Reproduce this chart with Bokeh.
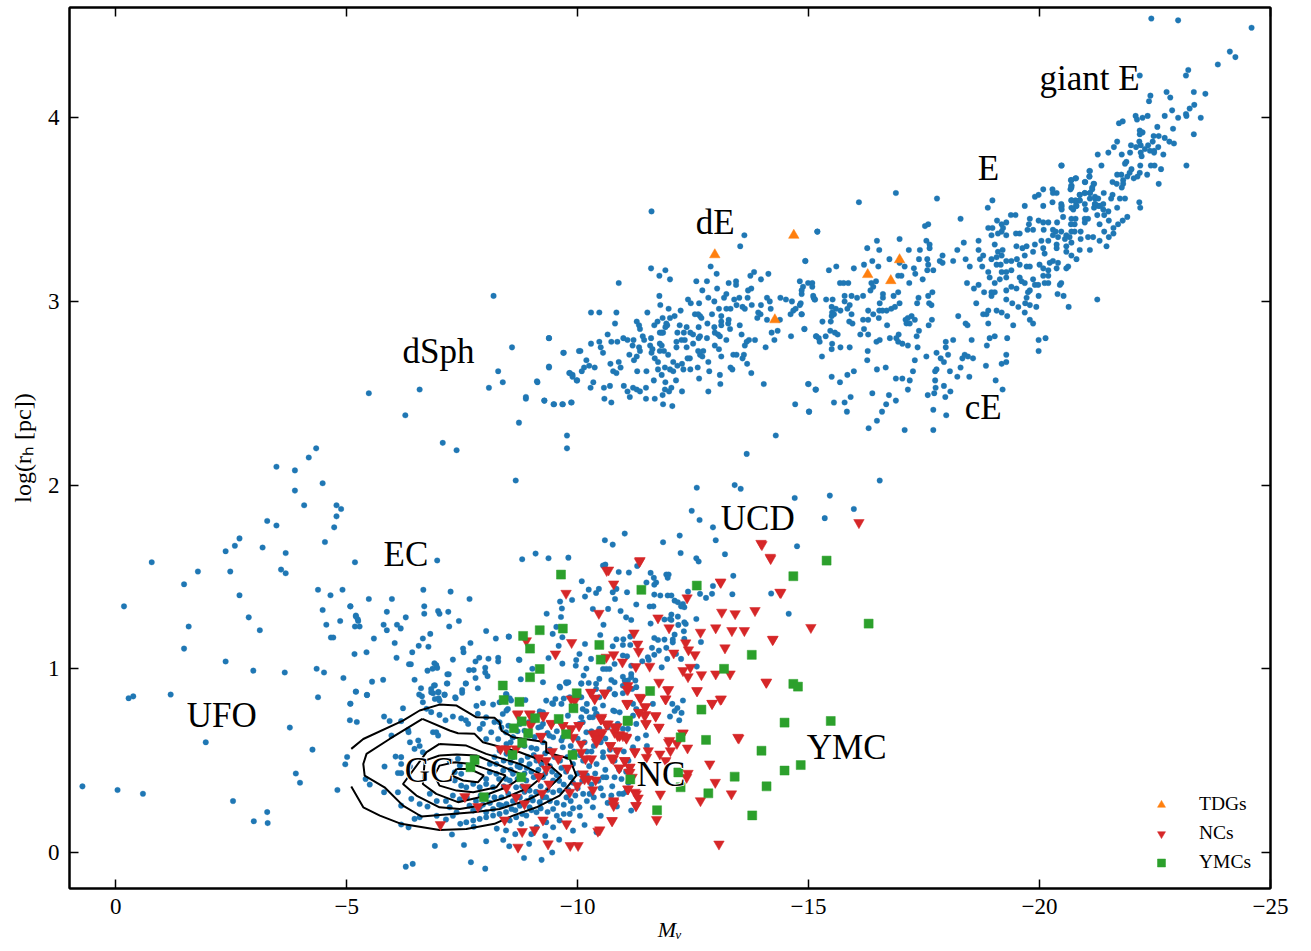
from bokeh.plotting import figure
from bokeh.models import Range1d, FixedTicker, LinearAxis, Legend, LegendItem, ColumnDataSource
from bokeh.core.properties import value
from bokeh.embed import file_html
from bokeh.resources import INLINE

SERIF = "Liberation Serif"

x_ticks = [0, -5, -10, -15, -20, -25]
x_tick_labels = ["0", "\u22125", "\u221210", "\u221215", "\u221220", "\u221225"]
y_ticks = [0, 1, 2, 3, 4]
y_tick_labels = ["0", "1", "2", "3", "4"]
x_title = "M\u1d65"
y_title = "log(r\u2095 [pc])"

dwarfs_a = [(-11.60,3.49),(-13.61,3.36),(-13.52,3.30),(-15.19,3.38),(-14.93,3.22),(-12.88,3.19),(-13.01,3.15),(-11.59,3.18),(-11.90,3.17),(-11.77,3.14),(-12.0,3.12),(-10.89,3.10),(-12.57,3.11),(-12.80,3.11),(-13.27,3.10),(-13.43,3.11),(-13.43,3.09),(-13.74,3.14),(-13.82,3.16),(-14.13,3.15),(-13.97,3.12),(-13.02,3.07),(-12.70,3.06),(-13.76,3.07),(-13.69,3.06),(-13.22,3.04),(-13.17,3.02),(-11.77,3.03),(-12.39,3.01),(-12.45,2.99),(-12.83,3.02),(-12.96,3.0),(-13.39,3.01),(-13.50,3.02),(-13.68,3.02),(-14.10,3.02),(-14.16,3.0),(-14.39,3.02),(-14.51,3.01),(-14.64,3.0),(-15.11,3.02),(-15.14,3.01),(-11.79,2.98),(-12.63,2.99),(-13.77,2.98),(-13.44,2.98),(-13.57,2.97),(-13.62,2.96),(-13.97,2.98),(-14.83,2.99),(-14.72,2.96),(-14.67,2.95),(-13.06,2.96),(-13.22,2.96),(-13.31,2.96),(-11.97,2.96),(-12.23,2.95),(-10.29,2.94),(-10.47,2.94),(-10.84,2.94),(-11.51,2.94),(-12.54,2.93),(-12.61,2.93),(-12.65,2.92),(-12.68,2.91),(-12.91,2.93),(-13.11,2.92),(-13.91,2.94),(-13.96,2.93),(-13.89,2.91),(-14.18,2.96),(-14.61,2.93),(-14.85,2.93),(-12.10,2.92),(-12.0,2.91),(-11.84,2.91),(-11.73,2.89),(-11.28,2.89),(-10.81,2.88),(-11.33,2.87),(-11.35,2.85),(-11.66,2.87),(-11.92,2.88),(-11.94,2.87),(-11.90,2.86),(-12.21,2.87),(-12.36,2.86),(-12.62,2.86),(-12.81,2.88),(-12.96,2.86),(-13.11,2.89),(-13.11,2.87),(-13.27,2.9),(-13.26,2.88),(-13.3,2.85),(-13.51,2.87),(-14.10,2.90),(-14.38,2.90),(-14.33,2.84),(-14.2,2.83),(-14.91,2.85),(-11.82,2.83),(-11.78,2.83),(-11.85,2.83),(-12.16,2.83),(-12.3,2.83),(-12.44,2.83),(-12.5,2.82),(-13.55,2.82),(-12.97,2.83),(-13.04,2.82),(-13.08,2.81),(-12.65,2.81),(-12.62,2.80),(-10.65,2.82),(-10.99,2.80),(-11.08,2.79),(-11.21,2.79),(-11.41,2.81),(-11.44,2.79),(-11.59,2.80),(-9.38,2.80),(-14.62,2.81),(-14.26,2.79),(-15.16,2.81),(-15.22,2.80),(-12.80,2.80),(-13.22,2.79),(-13.84,2.79),(-13.71,2.79),(-13.66,2.78),(-13.62,2.76),(-12.32,2.79),(-12.25,2.79),(-12.14,2.78),(-12.5,2.77),(-11.78,2.77),(-11.82,2.76),(-10.47,2.78),(-10.5,2.75),(-10.29,2.77),(-10.73,2.78),(-10.86,2.78),(-11.19,2.76),(-11.33,2.75),(-11.57,2.76),(-12.14,2.75),(-12.36,2.75),(-12.97,2.76),(-13.06,2.74),(-14.07,2.75),(-9.70,2.72),(-10.06,2.73),(-10.55,2.72),(-11.12,2.71),(-11.35,2.73),(-11.28,2.70),(-11.22,2.68),(-11.62,2.74),(-11.6,2.72),(-11.78,2.73),(-11.87,2.73),(-11.96,2.71),(-12.61,2.73),(-12.72,2.73),(-12.65,2.71),(-12.70,2.70),(-13.37,2.71),(-13.44,2.71),(-13.6,2.71),(-13.57,2.69),(-13.11,2.70),(-12.43,2.69),(-12.38,2.69),(-11.67,2.69),(-11.74,2.67),(-12.07,2.67),(-12.83,2.67),(-13.67,2.66),(-10.19,2.68),(-10.71,2.66),(-10.89,2.67),(-10.93,2.64),(-9.38,2.64),(-10.25,2.65),(-10.37,2.64),(-10.14,2.64),(-10.09,2.62),(-9.83,2.61),(-9.89,2.60),(-9.99,2.57),(-10.77,2.62),(-10.84,2.61),(-11.29,2.62),(-11.49,2.62),(-11.74,2.63),(-11.89,2.64),(-12.0,2.63),(-12.07,2.62),(-12.16,2.65),(-12.26,2.66),(-12.29,2.63),(-12.44,2.63),(-12.6,2.64),(-12.85,2.62),(-13.31,2.64),(-13.35,2.63),(-13.76,2.61),(-11.82,2.60),(-13.08,2.60),(-12.63,2.58),(-12.13,2.57),(-11.65,2.57),(-11.90,2.56),(-13.09,2.55),(-14.03,2.55),(-14.99,2.55),(-15.15,2.52),(-9.13,2.56),(-10.34,2.56),(-10.28,2.53),(-10.57,2.53),(-10.70,2.54),(-11.0,2.54),(-11.2,2.53),(-11.28,2.52),(-11.48,2.53),(-11.35,2.51),(-11.08,2.51),(-11.13,2.48),(-11.89,2.52),(-12.03,2.53),(-11.98,2.51),(-12.26,2.51),(-12.83,2.51),(-11.84,2.49),(-10.58,2.47),(-10.73,2.45),(-11.48,2.47),(-11.67,2.47),(-11.85,2.44),(-12.05,2.43),(-8.88,2.47),(-9.28,2.46),(-9.49,2.44),(-9.68,2.44),(-9.87,2.45),(-14.71,2.44),(-15.01,2.40)]

ellipticals_a = [(-20.47,3.74),(-21.09,3.71),(-21.08,3.68),(-20.78,3.67),(-20.68,3.66),(-20.99,3.65),(-21.17,3.64),(-20.69,3.63),(-20.67,3.61),(-21.14,3.61),(-20.08,3.61),(-20.28,3.61),(-20.37,3.59),(-20.29,3.59),(-19.98,3.58),(-19.90,3.57),(-17.78,3.56),(-16.89,3.59),(-16.09,3.54),(-20.98,3.59),(-21.09,3.59),(-20.87,3.58),(-20.69,3.55),(-20.78,3.55),(-20.87,3.55),(-21.2,3.56),(-21.2,3.53),(-21.27,3.52),(-18.98,3.55),(-18.88,3.51),(-19.68,3.52),(-20.08,3.52),(-20.28,3.54),(-20.47,3.53),(-20.47,3.51),(-20.8,3.52),(-20.73,3.50),(-21.0,3.50),(-19.38,3.47),(-19.48,3.47),(-18.29,3.45),(-19.79,3.45),(-19.77,3.42),(-19.98,3.44),(-20.08,3.43),(-20.19,3.43),(-20.38,3.43),(-20.51,3.46),(-20.69,3.45),(-20.78,3.45),(-20.68,3.42),(-20.76,3.42),(-20.98,3.45),(-21.05,3.45),(-20.98,3.43),(-21.25,3.47),(-19.08,3.44),(-19.28,3.43),(-19.18,3.42),(-17.59,3.42),(-17.52,3.41),(-18.89,3.40),(-18.98,3.40),(-19.21,3.40),(-19.18,3.38),(-19.1,3.37),(-19.28,3.36),(-18.96,3.36),(-19.49,3.37),(-19.57,3.37),(-19.74,3.39),(-19.86,3.39),(-20.09,3.39),(-20.29,3.39),(-20.35,3.38),(-20.47,3.38),(-20.29,3.36),(-20.40,3.35),(-20.58,3.36),(-20.69,3.38),(-20.76,3.38),(-20.65,3.35),(-20.55,3.34),(-20.89,3.34),(-21.05,3.35),(-21.16,3.35),(-20.89,3.38),(-15.19,3.38),(-16.48,3.33),(-16.97,3.34),(-17.55,3.33),(-17.62,3.31),(-18.36,3.32),(-18.68,3.33),(-19.03,3.31),(-19.5,3.30),(-19.63,3.29),(-19.72,3.30),(-19.90,3.31),(-20.04,3.33),(-20.19,3.33),(-20.69,3.32),(-20.37,3.31),(-20.37,3.29),(-20.58,3.30),(-16.27,3.29),(-16.53,3.28),(-17.17,3.28),(-17.41,3.28),(-17.62,3.29),(-18.22,3.28),(-18.68,3.28),(-19.10,3.27),(-19.20,3.28),(-19.07,3.24),(-19.18,3.25),(-19.68,3.25),(-19.86,3.27),(-20.08,3.29),(-20.11,3.26),(-20.69,3.25),(-20.80,3.23),(-20.87,3.28),(-21.09,3.28),(-20.58,3.27),(-16.75,3.23),(-16.38,3.22),(-16.20,3.20),(-16.97,3.21),(-17.39,3.23),(-17.57,3.23),(-17.90,3.25),(-17.84,3.22),(-17.90,3.21),(-18.13,3.22),(-18.40,3.23),(-18.49,3.19),(-18.78,3.25),(-18.71,3.23),(-18.76,3.19),(-18.96,3.23),(-19.07,3.20),(-19.16,3.20),(-19.28,3.22),(-19.39,3.22),(-19.51,3.23),(-19.57,3.20),(-19.72,3.19),(-19.79,3.19),(-20.0,3.20),(-20.22,3.21),(-20.08,3.18),(-20.19,3.17),(-20.29,3.22),(-20.40,3.21),(-20.58,3.18),(-20.62,3.19),(-20.37,3.18),(-14.93,3.22),(-15.60,3.19),(-15.44,3.17),(-15.98,3.18),(-16.51,3.19),(-17.08,3.19),(-17.28,3.18),(-17.31,3.15),(-17.59,3.20),(-17.57,3.17),(-17.70,3.17),(-18.89,3.16),(-18.92,3.13),(-19.03,3.10),(-19.18,3.16),(-19.28,3.16),(-19.39,3.17),(-19.14,3.12),(-19.28,3.13),(-19.57,3.13),(-19.68,3.10),(-19.86,3.12),(-19.90,3.09),(-20.08,3.14),(-20.19,3.14),(-20.19,3.10),(-20.11,3.10),(-20.47,3.10),(-20.44,3.09),(-16.94,3.14),(-17.01,3.14),(-16.46,3.11),(-15.68,3.10),(-15.76,3.10),(-15.86,3.10),(-17.47,3.12),(-17.18,3.10),(-16.36,3.10),(-16.40,3.08),(-16.34,3.06),(-14.81,3.11),(-14.88,3.08),(-14.99,3.10),(-15.08,3.10),(-15.08,3.08),(-14.85,3.06),(-14.85,3.04),(-18.43,3.10),(-18.58,3.07),(-18.68,3.09),(-18.80,3.05),(-18.96,3.05),(-19.03,3.05),(-18.96,3.03),(-19.28,3.06),(-19.39,3.08),(-19.50,3.07),(-19.61,3.11),(-19.75,3.05),(-19.79,3.06),(-19.97,3.09),(-19.72,3.02),(-19.98,3.03),(-20.39,3.04),(-20.52,3.03),(-19.28,3.01),(-19.41,2.99),(-19.54,2.97),(-19.69,2.99),(-19.79,2.98),(-19.93,2.97),(-20.63,2.97),(-21.25,3.01)]

ellipticals_b = [(-17.68,3.05),(-17.59,3.03),(-17.38,3.02),(-17.35,2.99),(-17.61,2.99),(-17.66,2.98),(-16.61,3.04),(-16.61,3.02),(-16.94,3.05),(-16.84,3.03),(-16.18,3.03),(-16.05,3.02),(-15.93,3.03),(-15.78,3.03),(-15.78,3.0),(-15.52,3.01),(-15.38,3.01),(-15.10,3.03),(-15.13,3.01),(-16.97,2.99),(-16.87,2.97),(-16.79,2.96),(-16.54,2.99),(-16.53,2.95),(-16.6,2.95),(-16.69,2.95),(-16.40,2.93),(-16.29,2.95),(-15.89,2.98),(-15.84,2.96),(-15.5,2.97),(-15.59,2.96),(-15.69,2.95),(-15.51,2.94),(-15.5,2.92),(-15.55,2.93),(-15.93,2.93),(-14.85,2.93),(-14.81,2.98),(-19.07,2.95),(-19.18,2.94),(-19.30,2.92),(-18.89,2.95),(-18.78,2.93),(-18.85,2.93),(-18.63,2.99),(-18.89,2.88),(-19.43,2.87),(-19.68,2.94),(-19.79,2.90),(-19.86,2.88),(-18.24,2.92),(-18.40,2.88),(-18.44,2.87),(-17.67,2.90),(-17.60,2.87),(-17.15,2.91),(-17.23,2.92),(-17.10,2.90),(-17.30,2.90),(-17.12,2.88),(-17.19,2.88),(-17.39,2.84),(-17.34,2.81),(-16.70,2.87),(-16.52,2.91),(-16.18,2.90),(-16.29,2.90),(-16.2,2.85),(-15.30,2.89),(-15.48,2.89),(-15.88,2.89),(-15.95,2.88),(-14.91,2.85),(-15.47,2.84),(-15.57,2.83),(-15.63,2.82),(-16.12,2.82),(-16.29,2.82),(-15.17,2.81),(-15.37,2.81),(-15.24,2.78),(-15.51,2.77),(-15.50,2.74),(-15.69,2.75),(-15.89,2.75),(-16.95,2.82),(-16.76,2.80),(-16.90,2.80),(-16.54,2.79),(-16.47,2.78),(-16.94,2.78),(-17.03,2.77),(-17.15,2.76),(-17.36,2.75),(-16.28,2.73),(-16.27,2.68),(-15.29,2.70),(-19.03,2.81),(-18.92,2.80),(-19.30,2.80),(-18.86,2.76),(-18.53,2.79),(-18.13,2.79),(-17.97,2.78),(-17.97,2.75),(-17.77,2.72),(-18.02,2.71),(-17.86,2.69),(-17.93,2.67),(-17.55,2.70),(-17.30,2.68),(-18.38,2.71),(-18.33,2.69),(-18.45,2.70),(-18.56,2.69),(-18.29,2.64),(-18.06,2.62),(-17.77,2.63),(-17.74,2.62),(-17.26,2.62),(-16.67,2.64),(-16.48,2.63),(-15.98,2.62),(-15.84,2.60),(-15.50,2.59),(-15.68,2.56),(-15.0,2.55),(-15.16,2.52),(-16.89,2.58),(-17.03,2.58),(-17.19,2.57),(-17.15,2.52),(-17.74,2.57),(-18.22,2.59),(-18.48,2.59),(-18.84,2.65),(-19.18,2.66),(-19.28,2.67),(-19.28,2.71),(-19.98,2.79),(-20.13,2.80),(-19.98,2.73),(-19.05,2.57),(-19.20,2.52),(-17.93,2.54),(-18.07,2.51),(-17.75,2.53),(-17.72,2.50),(-17.58,2.49),(-17.96,2.48),(-16.38,2.50),(-16.74,2.49),(-16.89,2.46),(-15.91,2.48),(-15.55,2.45),(-15.78,2.45),(-15.83,2.40),(-15.01,2.40),(-16.68,2.44),(-16.59,2.40),(-16.48,2.35),(-16.30,2.31),(-17.08,2.30),(-17.70,2.41),(-17.70,2.30),(-17.98,2.38)]

giants = [(-22.42,4.54),(-23.0,4.53),(-24.59,4.49),(-24.12,4.36),(-24.24,4.33),(-23.86,4.29),(-23.22,4.26),(-23.17,4.23),(-22.17,4.23),(-22.40,4.12),(-22.37,4.09),(-22.75,4.14),(-22.83,4.11),(-23.34,4.14),(-23.59,4.13),(-22.87,4.04),(-23.35,4.07),(-23.25,4.05),(-23.17,4.02),(-23.18,4.01),(-23.49,4.0),(-23.0,4.0),(-22.71,4.01),(-22.34,4.01),(-22.23,4.0),(-22.08,4.01),(-22.11,3.99),(-21.80,3.98),(-21.72,3.97),(-22.55,3.95),(-22.89,3.94),(-23.34,3.91),(-22.17,3.93),(-22.23,3.92),(-22.17,3.91),(-22.47,3.90),(-22.58,3.90),(-22.71,3.89),(-22.81,3.87),(-22.91,3.86),(-21.68,3.87),(-21.61,3.84),(-21.49,3.81),(-21.26,3.80),(-22.16,3.87),(-22.19,3.85),(-22.45,3.87),(-21.98,3.85),(-22.09,3.84),(-22.35,3.85),(-22.28,3.83),(-22.57,3.84),(-21.96,3.81),(-21.78,3.80),(-22.19,3.81),(-22.21,3.79),(-22.39,3.82),(-22.48,3.82),(-22.48,3.81),(-22.68,3.80),(-21.88,3.76),(-21.85,3.75),(-21.34,3.74),(-20.48,3.74),(-22.18,3.74),(-22.41,3.74),(-22.49,3.74),(-22.63,3.72),(-23.18,3.74),(-21.08,3.71),(-21.08,3.68),(-21.99,3.72),(-21.95,3.70),(-21.90,3.68),(-21.68,3.69),(-21.77,3.69),(-22.17,3.70),(-22.12,3.68),(-22.04,3.67),(-22.33,3.69),(-21.81,3.66),(-21.81,3.64),(-21.78,3.62),(-21.58,3.65),(-21.67,3.64),(-22.58,3.64),(-20.79,3.67),(-20.69,3.66),(-20.69,3.63),(-20.69,3.62),(-20.98,3.65),(-21.18,3.64),(-21.14,3.62),(-21.09,3.59),(-20.87,3.58),(-20.98,3.59),(-21.39,3.59),(-21.58,3.58),(-21.55,3.56),(-21.09,3.56),(-21.2,3.57),(-21.27,3.56),(-21.74,3.56),(-21.85,3.56),(-20.69,3.55),(-20.79,3.54),(-20.87,3.55),(-20.79,3.52),(-20.98,3.53),(-21.2,3.53),(-21.18,3.51),(-21.31,3.52),(-21.38,3.53),(-21.38,3.50),(-21.68,3.51),(-22.16,3.54),(-22.18,3.51),(-20.48,3.52),(-20.48,3.50),(-20.69,3.51),(-21.49,3.49),(-21.4,3.47),(-21.5,3.44),(-21.3,3.42),(-21.6,3.40),(-21.7,3.42),(-21.4,3.38),(-21.5,3.35),(-21.3,3.33),(-21.8,3.44),(-21.9,3.46),(-21.45,3.30),(-21.6,3.37)]

faint = [(-8.18,3.03),(-9.38,2.80),(-8.58,2.75),(-9.69,2.72),(-10.03,2.73),(-9.38,2.645),(-8.28,2.62),(-9.82,2.61),(-9.89,2.59),(-9.98,2.57),(-9.12,2.565),(-8.38,2.56),(-8.08,2.53),(-6.58,2.52),(-5.48,2.50),(-8.88,2.48),(-9.28,2.46),(-9.48,2.44),(-9.67,2.44),(-9.86,2.45),(-6.27,2.38),(-8.73,2.34),(-9.77,2.27),(-9.77,2.20),(-7.08,2.23),(-7.38,2.19),(-4.34,2.20),(-4.18,2.15),(-3.48,2.10),(-3.88,2.08),(-4.48,2.01),(-3.88,1.97),(-4.08,1.89),(-4.78,1.89),(-4.88,1.87),(-4.78,1.83),(-3.28,1.805),(-3.48,1.78),(-4.73,1.77),(-2.68,1.71),(-2.58,1.67),(-2.38,1.64),(-3.18,1.66),(-3.68,1.63),(-4.53,1.69),(-5.18,1.58),(-0.78,1.58),(-1.78,1.53),(-2.48,1.53),(-3.58,1.54),(-3.68,1.52),(-1.48,1.46),(-2.68,1.40),(-4.38,1.43),(-4.65,1.40),(-4.91,1.43),(-5.08,1.34),(-4.48,1.32),(-0.18,1.34),(-1.58,1.23),(-2.88,1.28),(-3.12,1.21),(-1.48,1.11),(-4.56,1.24),(-4.86,1.26),(-5.2,1.29),(-5.24,1.27),(-5.18,1.23),(-4.66,1.17),(-4.71,1.17),(-5.17,1.08),(-2.38,1.04),(-2.98,0.99),(-3.66,0.98),(-4.35,1.0),(-4.51,0.98),(-4.93,0.95),(-0.28,0.84),(-0.38,0.85),(-1.19,0.86),(-4.38,0.845),(-5.2,0.875),(-5.08,0.81),(-5.07,0.72),(-5.22,0.71),(-3.77,0.68),(-1.95,0.60),(-4.26,0.56),(-5.01,0.52),(-4.97,0.48),(-3.90,0.43),(-3.99,0.38),(0.72,0.36),(-0.04,0.34),(-0.59,0.32),(-4.8,0.34),(-2.54,0.28),(-3.28,0.22),(-2.99,0.17),(-3.29,0.16),(-5.98,1.38),(-5.48,1.38),(-6.96,1.59),(-14.29,2.27),(-13.66,2.17),(-16.54,2.025),(-15.46,1.943),(-13.4,2.0),(-13.53,1.98),(-12.58,1.986),(-14.7,1.93),(-8.66,2.025),(-12.93,1.77),(-11.02,1.736),(-10.59,1.70),(-12.21,1.725),(-12.47,1.86),(-12.64,1.81),(-15.35,1.82),(-15.98,1.87)]

ec_group = [(-6.66,1.43),(-7.25,1.42),(-7.66,1.38),(-5.08,1.34),(-6.68,1.34),(-5.87,1.31),(-6.68,1.30),(-6.98,1.315),(-7.01,1.30),(-7.2,1.31),(-6.28,1.28),(-5.2,1.285),(-5.25,1.26),(-5.8,1.24),(-6.09,1.24),(-6.17,1.22),(-5.28,1.23),(-7.22,1.23),(-7.43,1.26),(-5.87,1.21),(-8.02,1.206),(-6.81,1.19),(-6.65,1.165),(-8.23,1.165),(-8.51,1.175),(-5.59,1.165),(-6.04,1.14),(-6.56,1.125),(-6.77,1.12),(-7.68,1.14),(-7.52,1.11),(-7.53,1.09),(-6.42,1.09),(-5.43,1.09),(-6.08,1.06),(-7.3,1.05),(-7.87,1.06),(-7.79,1.04),(-8.07,1.055),(-8.28,1.06),(-8.28,1.04),(-8.73,1.05),(-6.35,1.025),(-6.39,1.025),(-6.9,1.03),(-6.94,1.02),(-6.96,1.005),(-6.86,1.0),(-6.75,0.99),(-5.55,0.93),(-5.79,0.94),(-6.47,0.94),(-7.18,0.97),(-7.21,0.97),(-7.65,0.993),(-7.75,0.993),(-8.0,1.006),(-8.0,0.98),(-8.05,0.96),(-7.79,0.95),(-7.18,0.92),(-7.58,0.92),(-7.84,0.894),(-6.91,0.91),(-6.83,0.89),(-6.87,0.867),(-6.99,0.874),(-6.61,0.894),(-6.57,0.86),(-6.63,0.85),(-7.12,0.86),(-7.5,0.87),(-7.36,0.84),(-6.99,0.84),(-5.44,0.857),(-8.46,0.86),(-8.53,0.84)]

gc_group = [(-5.2,0.876),(-5.44,0.858),(-5.08,0.81),(-6.89,0.909),(-6.83,0.872),(-6.98,0.872),(-6.91,0.836),(-7.01,0.827),(-7.12,0.858),(-7.17,0.92),(-7.35,0.845),(-7.5,0.885),(-7.58,0.92),(-6.22,0.785),(-6.65,0.818),(-6.73,0.782),(-6.83,0.764),(-5.81,0.74),(-5.93,0.716),(-6.18,0.715),(-6.33,0.667),(-6.34,0.655),(-5.97,0.637),(-6.87,0.655),(-6.94,0.655),(-6.98,0.637),(-7.01,0.749),(-7.14,0.72),(-7.3,0.74),(-7.48,0.73),(-7.58,0.72),(-7.63,0.70),(-7.81,0.798),(-7.95,0.813),(-8.17,0.805),(-8.31,0.818),(-8.46,0.773),(-7.84,0.755),(-8.02,0.736),(-8.2,0.71),(-7.95,0.70),(-7.88,0.673),(-8.13,0.655),(-8.28,0.618),(-8.02,0.618),(-6.37,0.60),(-6.55,0.61),(-6.58,0.58),(-6.47,0.564),(-6.65,0.546),(-6.06,0.522),(-6.18,0.519),(-6.18,0.482),(-5.82,0.468),(-6.11,0.433),(-6.18,0.432),(-6.37,0.468),(-5.41,0.40),(-5.5,0.37),(-5.81,0.328),(-6.11,0.328),(-6.4,0.292),(-6.58,0.264),(-6.18,0.255),(-6.47,0.183),(-6.58,0.192),(-6.34,0.137),(-6.18,0.152),(-7.23,0.50),(-7.41,0.51),(-7.45,0.473),(-7.34,0.437),(-7.48,0.428),(-7.34,0.392),(-7.48,0.364),(-7.59,0.355),(-7.74,0.373),(-7.88,0.355),(-8.02,0.373),(-8.17,0.355),(-8.1,0.482),(-8.24,0.482),(-8.1,0.437),(-8.02,0.40),(-8.24,0.428),(-8.39,0.446),(-8.53,0.392),(-8.6,0.428),(-8.67,0.355),(-8.75,0.464),(-8.89,0.392),(-8.96,0.337),(-8.31,0.555),(-8.46,0.537),(-8.6,0.519),(-8.78,0.50),(-8.96,0.482),(-9.11,0.50),(-9.25,0.41),(-9.47,0.392),(-9.47,0.328),(-9.61,0.337),(-9.76,0.30),(-7.23,0.246),(-7.38,0.219),(-7.66,0.255),(-7.74,0.228),(-7.88,0.246),(-8.02,0.219),(-8.17,0.237),(-8.35,0.255),(-8.46,0.264),(-8.57,0.237),(-8.75,0.255),(-8.96,0.246),(-9.03,0.283),(-9.18,0.274),(-9.32,0.301),(-7.46,0.156),(-7.59,0.165),(-7.74,0.174),(-7.88,0.183),(-8.02,0.192),(-8.17,0.201),(-8.31,0.21),(-8.53,0.174),(-8.67,0.192),(-8.89,0.201),(-9.11,0.219),(-9.47,0.237),(-7.28,0.098),(-6.91,0.036),(-7.54,0.041),(-8.02,0.061),(-8.39,0.068),(-8.52,0.034),(-8.95,0.047),(-9.45,0.0),(-9.22,-0.04),(-8.84,-0.03),(-7.69,-0.053),(-8.0,-0.088),(-6.28,-0.077),(-6.43,-0.062),(-9.61,0.174),(-9.83,0.21),(-10.04,0.246),(-10.33,0.246),(-10.12,0.319),(-10.26,0.319),(-10.55,0.31),(-9.9,0.119),(-9.76,0.156),(-10.41,0.11),(-9.47,0.137),(-9.32,0.165),(-9.11,0.137),(-8.78,0.156),(-10.62,0.41),(-10.8,0.41),(-10.98,0.319),(-11.16,0.228),(-10.73,0.31),(-10.55,0.41),(-9.61,0.903),(-9.76,0.921),(-9.47,0.809),(-9.65,0.809),(-9.83,0.845),(-10.04,0.845),(-10.08,0.918),(-10.8,0.863),(-11.09,0.936),(-10.55,0.80),(-10.77,0.773),(-10.26,0.736),(-10.04,0.70),(-10.19,0.655),(-10.48,0.609),(-10.84,0.555),(-10.55,0.546),(-11.2,0.573),(-10.98,0.673),(-10.41,0.755),(-11.27,0.70),(-9.32,0.827),(-9.18,0.755),(-9.25,0.70),(-9.07,0.628),(-9.11,0.564),(-8.96,0.637),(-8.78,0.609),(-8.46,0.591),(-8.6,0.627),(-9.47,0.627),(-9.68,0.573),(-9.9,0.482),(-10.12,0.50),(-10.41,0.482),(-10.55,0.519),(-8.85,0.43),(-8.9,0.46),(-9.0,0.44),(-9.05,0.41),(-9.15,0.45),(-9.2,0.36),(-9.3,0.43),(-9.35,0.34),(-9.4,0.47),(-9.45,0.44),(-9.55,0.42),(-9.6,0.39),(-9.65,0.46),(-9.7,0.37),(-9.75,0.44),(-9.8,0.34),(-9.85,0.41),(-9.9,0.38),(-9.95,0.31),(-10.0,0.43),(-8.7,0.4),(-8.8,0.36),(-8.55,0.45),(-8.45,0.4),(-8.4,0.36),(-8.3,0.4),(-8.65,0.31),(-8.75,0.3),(-8.85,0.33),(-9.0,0.3),(-9.1,0.33),(-9.25,0.3),(-9.4,0.28),(-9.55,0.27),(-9.7,0.26),(-9.85,0.28),(-10.0,0.35),(-10.1,0.39),(-10.2,0.42),(-10.3,0.37),(-8.5,0.32),(-8.35,0.3),(-8.2,0.3),(-8.05,0.31),(-7.9,0.31),(-7.8,0.28),(-8.6,0.28),(-8.9,0.28)]

core_extra = [(-8.2,0.52),(-8.4,0.5),(-8.55,0.49),(-8.7,0.47),(-8.92,0.52),(-9.05,0.53),(-9.22,0.48),(-9.3,0.54),(-9.5,0.52),(-9.62,0.5),(-9.78,0.52),(-9.92,0.55),(-10.05,0.53),(-10.2,0.55),(-10.25,0.47),(-10.38,0.43),(-10.45,0.39),(-10.5,0.35),(-10.35,0.3),(-10.2,0.28),(-10.05,0.2),(-9.9,0.24),(-9.7,0.21),(-9.55,0.2),(-9.35,0.22),(-9.2,0.24),(-9.0,0.23),(-8.8,0.21),(-8.65,0.23),(-8.45,0.22),(-8.3,0.26),(-8.1,0.27),(-7.95,0.26),(-7.6,0.3),(-7.45,0.29),(-7.3,0.31),(-7.15,0.28),(-6.95,0.28),(-6.8,0.32),(-6.75,0.25),(-6.95,0.2),(-7.15,0.18),(-7.3,0.2),(-7.75,0.14),(-8.25,0.13),(-8.45,0.12),(-8.65,0.1),(-9.0,0.1),(-9.3,0.09),(-9.6,0.07),(-10.15,0.15),(-10.5,0.2),(-10.65,0.27),(-10.75,0.36),(-10.95,0.4),(-11.05,0.44),(-8.55,0.6),(-8.7,0.66),(-8.85,0.58),(-9.0,0.57),(-9.25,0.6),(-9.35,0.65),(-9.55,0.66),(-9.65,0.61),(-9.8,0.64),(-9.85,0.58),(-10.0,0.62),(-10.15,0.6),(-10.3,0.66),(-10.35,0.58),(-10.6,0.62),(-10.65,0.68),(-9.4,0.56),(-9.15,0.68),(-8.95,0.71),(-8.75,0.7),(-8.5,0.69),(-8.35,0.68)]

nc_field = [(-10.76,1.676),(-11.85,1.689),(-12.99,1.70),(-14.75,1.667),(-9.09,1.627),(-9.37,1.602),(-9.8,1.605),(-8.8,1.596),(-12.23,1.63),(-12.57,1.602),(-12.62,1.584),(-13.19,1.624),(-11.29,1.56),(-10.55,1.562),(-10.6,1.567),(-10.89,1.527),(-11.11,1.524),(-11.92,1.513),(-11.97,1.513),(-11.95,1.495),(-11.58,1.522),(-11.65,1.495),(-11.7,1.47),(-11.66,1.458),(-13.37,1.506),(-11.49,1.47),(-10.09,1.477),(-12.93,1.451),(-10.84,1.435),(-10.76,1.417),(-10.24,1.431),(-10.4,1.413),(-10.46,1.435),(-11.07,1.417),(-10.81,1.38),(-10.16,1.393),(-12.39,1.42),(-12.65,1.408),(-12.91,1.408),(-13.35,1.406),(-12.78,1.386),(-14.19,1.41),(-11.66,1.404),(-11.79,1.399),(-11.95,1.399),(-12.03,1.399),(-12.1,1.371),(-12.17,1.362),(-12.28,1.353),(-12.31,1.335),(-12.24,1.34),(-9.62,1.366),(-9.88,1.375),(-9.66,1.328),(-9.64,1.282),(-9.33,1.30),(-10.33,1.326),(-10.66,1.326),(-10.93,1.315),(-11.27,1.35),(-11.56,1.339),(-11.64,1.34),(-11.05,1.28),(-11.16,1.266),(-12.03,1.295),(-12.0,1.271),(-11.88,1.268),(-12.17,1.284),(-12.03,1.266),(-12.57,1.271),(-12.31,1.253),(-12.3,1.204),(-12.18,1.239),(-12.34,1.244),(-11.58,1.246),(-10.56,1.24),(-14.57,1.30),(-9.54,1.228),(-9.46,1.19),(-9.67,1.172),(-8.51,1.175),(-10.49,1.184),(-10.84,1.161),(-10.99,1.161),(-11.14,1.175),(-11.66,1.168),(-11.74,1.157),(-11.88,1.159),(-12.1,1.186),(-12.06,1.159),(-12.31,1.163),(-12.67,1.146),(-10.98,1.13),(-11.14,1.13),(-10.76,1.123),(-10.16,1.135),(-9.59,1.125),(-10.04,1.081),(-11.61,1.114),(-11.76,1.099),(-11.66,1.076),(-11.92,1.114),(-12.06,1.144),(-11.94,1.054),(-12.13,1.081),(-12.24,1.054),(-9.37,1.059),(-9.97,1.048),(-9.67,1.028),(-8.74,1.048),(-9.96,1.017),(-9.02,1.0),(-10.19,1.001),(-10.29,1.054),(-10.55,0.999),(-10.62,0.999),(-10.69,0.999),(-10.8,1.026),(-10.98,1.072),(-11.07,1.068),(-11.16,1.017),(-11.4,1.041),(-11.52,1.063),(-11.54,1.048),(-11.82,1.008),(-12.58,1.012),(-10.13,0.963),(-10.47,0.945),(-10.73,0.939),(-10.8,0.927),(-10.98,0.957),(-11.02,0.936),(-11.16,0.972),(-11.16,0.954),(-11.25,0.936),(-8.77,0.943),(-9.25,0.927),(-9.75,0.927),(-9.8,0.927),(-9.62,0.898),(-10.08,0.921),(-10.24,0.923),(-10.4,0.918),(-10.69,0.89),(-10.98,0.908),(-11.27,0.90),(-10.4,0.89),(-8.45,0.863),(-8.56,0.827),(-8.87,0.83),(-9.52,0.836),(-9.7,0.838),(-9.45,0.812),(-10.08,0.845),(-10.2,0.809),(-10.47,0.845),(-10.81,0.861),(-10.98,0.867),(-11.18,0.89),(-11.2,0.809),(-11.27,0.781),(-11.63,0.809),(-12.05,0.809),(-12.16,0.787),(-12.28,0.827),(-8.49,0.781),(-9.25,0.763),(-9.18,0.769),(-9.79,0.745),(-10.11,0.781),(-10.19,0.769),(-10.37,0.781),(-10.4,0.754),(-10.8,0.769),(-10.91,0.763),(-11.2,0.745),(-10.87,0.70),(-11.09,0.673),(-10.08,0.736),(-10.11,0.709),(-9.21,0.685),(-9.68,0.627),(-9.39,0.636),(-8.6,0.627),(-8.85,0.663),(-11.48,0.638),(-10.33,0.736),(-10.47,0.673),(-8.38,0.754),(-8.31,0.709),(-8.45,0.654),(-10.7,0.56),(-10.8,0.5),(-10.9,0.45),(-10.5,0.6),(-10.3,0.55),(-10.6,0.45),(-11.0,0.55),(-11.1,0.5),(-11.3,0.62),(-11.5,0.58),(-12.1,0.77),(-12.0,0.74),(-12.25,0.76),(-12.2,0.72),(-11.1,0.38),(-10.9,0.32),(-10.85,0.25),(-11.05,0.33)]

tdg_mv = [-12.97, -14.68, -16.28, -16.78, -16.97, -14.27]
tdg_logr = [3.254, 3.36, 3.146, 3.113, 3.227, 2.90]

nc_pairs = [(-11.35,1.589),(-10.67,1.538),(-13.09,1.473),(-10.78,1.462),(-9.75,1.411),(-14.38,1.417),(-12.37,1.386),(-13.97,1.683),(-14.17,1.607),(-10.46,1.302),(-11.74,1.277),(-13.12,1.308),(-13.41,1.30),(-13.84,1.317),(-11.98,1.223),(-12.99,1.223),(-12.66,1.199),(-13.34,1.208),(-13.61,1.208),(-14.23,1.161),(-11.22,1.195),(-8.89,1.153),(-9.87,1.143),(-11.3,1.135),(-11.32,1.095),(-12.34,1.141),(-12.4,1.103),(-12.54,1.077),(-12.08,1.086),(-13.19,1.114),(-9.52,1.081),(-10.62,1.063),(-10.78,1.077),(-10.97,1.037),(-11.26,1.012),(-11.56,1.014),(-12.44,1.008),(-12.28,0.99),(-12.39,0.957),(-12.68,0.968),(-12.99,0.972),(-13.3,0.972),(-14.08,0.927),(-11.76,0.927),(-11.95,0.885),(-11.07,0.887),(-12.58,0.881),(-10.28,0.872),(-10.58,0.867),(-10.37,0.841),(-9.86,0.836),(-11.36,0.84),(-11.9,0.836),(-11.07,0.809),(-11.46,0.791),(-13.09,0.834),(-12.91,0.811),(-11.69,0.742),(-11.47,0.751),(-11.33,0.762),(-10.5,0.727),(-8.7,0.751),(-8.97,0.751),(-9.25,0.743),(-8.97,0.696),(-9.43,0.703),(-9.68,0.691),(-9.86,0.673),(-10.03,0.691),(-10.63,0.696),(-10.85,0.685),(-11.48,0.70),(-11.76,0.682),(-9.21,0.633),(-10.33,0.645),(-10.47,0.649),(-10.42,0.627),(-10.8,0.654),(-10.91,0.636),(-11.05,0.627),(-12.28,0.649),(-13.47,0.627),(-11.99,0.61),(-14.09,0.927),(-11.97,0.887),(-11.09,0.887),(-10.59,0.868),(-12.59,0.881),(-11.37,0.841),(-11.91,0.836),(-11.08,0.812),(-13.11,0.836),(-12.91,0.812),(-11.47,0.794),(-11.33,0.763),(-11.69,0.745),(-11.45,0.745),(-11.48,0.703),(-10.52,0.736),(-10.62,0.70),(-11.76,0.681),(-10.8,0.681),(-10.91,0.642),(-11.06,0.622),(-13.49,0.623),(-10.52,0.645),(-11.97,0.60),(-12.28,0.651),(-12.15,0.594),(-12.38,0.569),(-12.01,0.554),(-10.71,0.582),(-11.24,0.549),(-11.53,0.554),(-11.78,0.536),(-10.86,0.554),(-10.77,0.509),(-11.49,0.518),(-11.02,0.50),(-11.91,0.50),(-12.86,0.482),(-10.9,0.46),(-11.13,0.464),(-11.13,0.436),(-12.39,0.431),(-12.36,0.409),(-12.98,0.382),(-11.09,0.346),(-11.79,0.318),(-13.33,0.319),(-11.24,0.328),(-11.31,0.297),(-12.66,0.282),(-10.78,0.282),(-10.78,0.255),(-11.26,0.255),(-10.75,0.173),(-11.71,0.179),(-13.06,0.046),(-10.48,0.123),(-7.03,0.152),(-7.56,0.304),(-7.84,0.25),(-8.42,0.177),(-8.8,0.114),(-8.71,0.029),(-9.07,0.123),(-9.36,0.047),(-9.84,0.038),(-10.01,0.038),(-9.25,0.177),(-9.76,0.156),(-10.44,0.116),(-10.74,0.174),(-10.78,0.274),(-8.67,0.301),(-8.87,0.355),(-8.85,0.265),(-8.46,0.352),(-9.23,0.323),(-9.38,0.373),(-9.16,0.413),(-9.83,0.328),(-9.99,0.364),(-9.78,0.46),(-10.33,0.341),(-10.39,0.395),(-10.23,0.40),(-10.12,0.428),(-10.15,0.40),(-11.09,0.346),(-11.27,0.256),(-11.27,0.319),(-11.18,0.41),(-8.33,0.564),(-8.46,0.564),(-8.67,0.564),(-9.16,0.515),(-9.32,0.50),(-9.58,0.51),(-9.32,0.455),(-9.45,0.55),(-10.08,0.591),(-10.08,0.546),(-10.17,0.51),(-10.3,0.51),(-10.71,0.582),(-10.73,0.515),(-10.9,0.46),(-11.02,0.50),(-11.24,0.546),(-11.13,0.464),(-11.11,0.437),(-8.71,0.755),(-8.96,0.755),(-9.27,0.746),(-9.0,0.70),(-9.43,0.70),(-9.68,0.691),(-9.21,0.631),(-10.03,0.691),(-9.86,0.673),(-9.9,0.627),(-9.94,0.827),(-10.3,0.872),(-10.37,0.836),(-10.59,0.867),(-11.07,0.81),(-11.09,0.909),(-11.34,0.845),(-10.51,0.727),(-10.66,0.70),(-10.84,0.682),(-10.98,0.636),(-11.05,0.627),(-10.87,0.636),(-10.41,0.646),(-10.51,0.655),(-10.41,0.60),(-10.41,0.618),(-16.09,1.796),(-13.99,1.676),(-14.18,1.60),(-14.4,1.415),(-13.1,1.47),(-11.34,1.584),(-10.63,1.535),(-15.05,1.225),(-14.22,1.159)]

ymc_pairs = [(-9.64,1.513),(-14.67,1.504),(-11.38,1.43),(-12.58,1.453),(-9.18,1.21),(-9.68,1.219),(-8.82,1.179),(-8.97,1.11),(-10.47,1.13),(-10.5,1.05),(-9.18,0.999),(-8.97,0.954),(-13.77,1.076),(-13.17,1.0),(-14.67,0.918),(-14.77,0.903),(-8.38,0.909),(-8.4,0.83),(-8.74,0.82),(-9.98,0.867),(-9.91,0.785),(-11.57,0.879),(-12.68,0.778),(-14.48,0.707),(-11.08,0.716),(-9.59,0.727),(-9.08,0.731),(-8.79,0.714),(-8.62,0.676),(-8.93,0.649),(-9.75,0.644),(-12.23,0.627),(-12.78,0.613),(-15.39,1.589),(-16.3,1.246),(-11.09,0.718),(-15.48,0.716),(-13.98,0.554),(-14.48,0.446),(-14.83,0.476),(-13.4,0.413),(-14.09,0.36),(-12.83,0.322),(-13.78,0.202),(-11.72,0.23),(-11.14,0.398),(-12.18,0.436),(-12.23,0.355),(-8.8,0.597),(-9.89,0.531),(-8.59,0.531),(-7.77,0.504),(-7.68,0.464),(-8.78,0.41),(-7.97,0.301)]

contour_outer_a = [(-5.10,0.564),(-5.36,0.618),(-6.22,0.718),(-6.58,0.773),(-7.01,0.805),(-7.38,0.80),(-7.81,0.736),(-8.2,0.733),(-8.31,0.709),(-8.35,0.664),(-8.6,0.627),(-9.32,0.60),(-9.32,0.546),(-9.83,0.51),(-9.97,0.419),(-9.83,0.373),(-9.61,0.31),(-9.11,0.246),(-8.6,0.201),(-8.2,0.156),(-7.59,0.128),(-7.01,0.123),(-6.18,0.156),(-5.72,0.201),(-5.36,0.246),(-5.10,0.359)]
contour_b = [(-6.64,0.727),(-7.23,0.664),(-7.41,0.649),(-7.77,0.646),(-7.95,0.60),(-8.75,0.546),(-9.32,0.491),(-9.65,0.419),(-9.32,0.337),(-8.89,0.283),(-8.31,0.237),(-7.74,0.219),(-6.62,0.196),(-6.22,0.255),(-5.82,0.355),(-5.39,0.419),(-5.36,0.482),(-5.43,0.537),(-5.93,0.618),(-6.64,0.727)]
contour_c = [(-7.01,0.591),(-6.73,0.546),(-6.22,0.373),(-6.51,0.31),(-7.01,0.246),(-7.45,0.237),(-7.88,0.255),(-8.46,0.301),(-8.96,0.355),(-9.27,0.419),(-8.75,0.482),(-8.02,0.537),(-7.59,0.582),(-7.01,0.591)]
contour_d = [(-7.01,0.528),(-7.38,0.533),(-7.81,0.528),(-8.24,0.482),(-8.85,0.419),(-8.46,0.355),(-7.88,0.301),(-7.41,0.274),(-6.94,0.319),(-6.65,0.373),(-6.69,0.50),(-7.01,0.528)]
contour_e = [(-7.34,0.491),(-7.7,0.482),(-8.02,0.455),(-8.44,0.419),(-8.24,0.355),(-7.74,0.328),(-7.38,0.337),(-7.01,0.364),(-6.9,0.42),(-7.01,0.473),(-7.34,0.491)]
contour_f = [(-7.38,0.455),(-7.66,0.455),(-7.97,0.419),(-7.84,0.382),(-7.52,0.392),(-7.27,0.419),(-7.38,0.455)]

label_text = ["giant E", "E", "dE", "dSph", "cE", "UCD", "EC", "UFO", "GC", "NC", "YMC"]
label_mv = [-20.0, -18.66, -12.56, -6.21, -18.38, -13.1, -5.8, -1.54, -6.26, -11.28, -14.96]
label_logr = [4.215, 3.725, 3.431, 2.729, 2.424, 1.82, 1.624, 0.748, 0.449, 0.422, 0.574]

all_blue = dwarfs_a + ellipticals_a + ellipticals_b + giants + faint + ec_group + gc_group + core_extra + nc_field
blue_mv = [q[0] for q in all_blue]
blue_logr = [q[1] for q in all_blue]
nc_mv = [q[0] for q in nc_pairs]
nc_logr = [q[1] for q in nc_pairs]
ymc_mv = [q[0] for q in ymc_pairs]
ymc_logr = [q[1] for q in ymc_pairs]

p = figure(frame_width=1201, frame_height=881, output_backend="svg", toolbar_location=None,
           x_range=Range1d(1, -25), y_range=Range1d(-0.196, 4.6),
           min_border_left=69, min_border_right=41, min_border_top=7, min_border_bottom=60,
           background_fill_color="white", border_fill_color="white")
p.grid.visible = False
p.outline_line_color = "black"
p.outline_line_width = 2

def style_axis(ax, ticks, labels, show, standoff=0):
    ax.ticker = FixedTicker(ticks=ticks)
    ax.major_tick_in = 9
    ax.major_tick_out = 0
    ax.minor_tick_in = 0
    ax.minor_tick_out = 0
    ax.major_tick_line_width = 1.5
    ax.major_tick_line_color = "black"
    ax.axis_line_width = 2
    ax.axis_line_color = "black"
    if show:
        ax.major_label_overrides = dict(zip(ticks, labels))
        ax.major_label_text_font = SERIF
        ax.major_label_text_font_size = "23px"
        ax.major_label_text_color = "black"
        ax.major_label_standoff = standoff
    else:
        ax.major_label_text_font_size = "0px"
        ax.major_label_standoff = 0
        ax.major_label_overrides = {t: "" for t in ticks}

style_axis(p.xaxis[0], x_ticks, x_tick_labels, True, 10)
style_axis(p.yaxis[0], y_ticks, y_tick_labels, True, 10)
p.xaxis[0].axis_label = x_title
p.xaxis[0].axis_label_text_font = SERIF
p.xaxis[0].axis_label_text_font_style = "italic"
p.xaxis[0].axis_label_text_font_size = "22px"
p.xaxis[0].axis_label_text_color = "black"
p.xaxis[0].axis_label_standoff = 0
p.yaxis[0].axis_label = y_title
p.yaxis[0].axis_label_text_font = SERIF
p.yaxis[0].axis_label_text_font_style = "normal"
p.yaxis[0].axis_label_text_font_size = "24px"
p.yaxis[0].axis_label_text_color = "black"
p.yaxis[0].axis_label_standoff = 9

top = LinearAxis(); style_axis(top, x_ticks, x_tick_labels, False); p.add_layout(top, "above")
right = LinearAxis(); style_axis(right, y_ticks, y_tick_labels, False); p.add_layout(right, "right")

p.scatter(blue_mv, blue_logr, marker="circle", size=5.6, fill_color="#1f77b4", line_color="#1f77b4", line_width=0.3)

for path in [contour_outer_a, contour_b, contour_c, contour_d, contour_e, contour_f]:
    p.line([q[0] for q in path], [q[1] for q in path], line_color="black", line_width=2)

r_tdg = p.scatter(tdg_mv, tdg_logr, marker="triangle", size=10.5, fill_color="#ff7f0e", line_color="#ff7f0e", line_width=0.5, line_join="round")
r_nc = p.scatter(nc_mv, nc_logr, marker="inverted_triangle", size=10.5, fill_color="#d62728", line_color="#d62728", line_width=0.5, line_join="round")
r_ymc = p.scatter(ymc_mv, ymc_logr, marker="square", size=9, fill_color="#2ca02c", line_color="#2ca02c", line_width=0.5, line_join="round")

src = ColumnDataSource(dict(x=label_mv, y=label_logr, t=label_text))
p.text("x", "y", text="t", source=src, text_font=value(SERIF), text_font_size="35px", text_color="white",
       text_align="left", text_baseline="alphabetic", text_outline_color="white")
p.text("x", "y", text="t", source=src, text_font=value(SERIF), text_font_size="35px", text_color="black",
       text_align="left", text_baseline="alphabetic")

legend = Legend(items=[LegendItem(label="TDGs", renderers=[r_tdg]), LegendItem(label="NCs", renderers=[r_nc]), LegendItem(label="YMCs", renderers=[r_ymc])],
                location=(1082, 15), orientation="vertical", background_fill_alpha=0, border_line_color=None,
                label_text_font=SERIF, label_text_font_size="19.5px", label_text_color="black",
                spacing=7, glyph_width=20, glyph_height=21, label_standoff=28, margin=0, padding=0, label_height=21)
p.add_layout(legend)

open("out.html", "w").write(file_html(p, INLINE))
